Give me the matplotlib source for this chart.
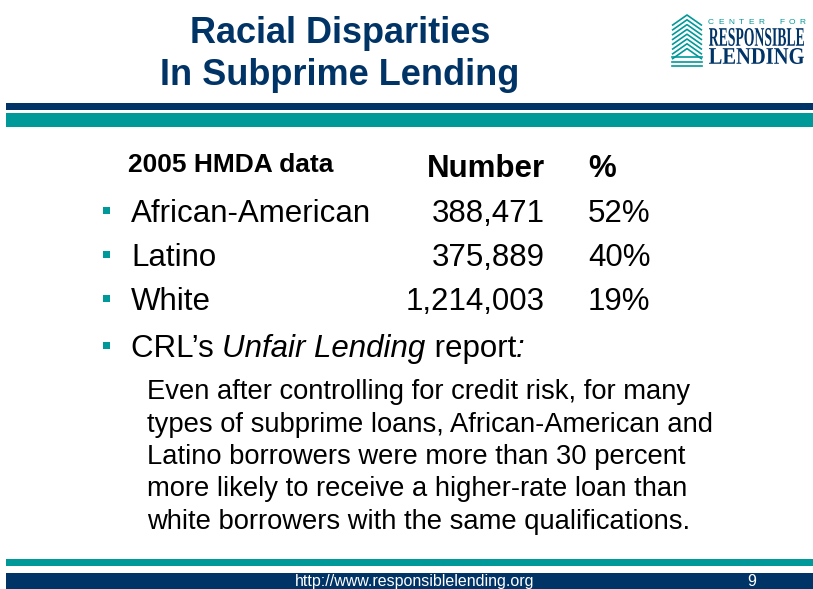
import matplotlib
matplotlib.use("Agg")
import matplotlib.pyplot as plt
from matplotlib.patches import Rectangle, PathPatch
from matplotlib.textpath import TextPath
from matplotlib.font_manager import FontProperties
from matplotlib.transforms import Affine2D

NAVY = "#003366"
TEAL = "#009999"

title_lines = ["Racial Disparities", "In Subprime Lending"]
groups = ["African-American", "Latino", "White"]
loan_counts = [388471, 375889, 1214003]
pct_subprime = [52, 40, 19]
header = ["2005 HMDA data", "Number", "%"]
report_note = ["Even after controlling for credit risk, for many",
               "types of subprime loans, African-American and",
               "Latino borrowers were more than 30 percent",
               "more likely to receive a higher-rate loan than",
               "white borrowers with the same qualifications."]
footer_url = "http://www.responsiblelending.org"
page_no = "9"

plt.rcParams['font.family'] = ['Liberation Sans', 'DejaVu Sans']

fig = plt.figure(figsize=(8.13, 5.89), dpi=100)
ax = fig.add_axes([0, 0, 1, 1])
ax.set_xlim(0, 813)
ax.set_ylim(589, 0)
ax.axis('off')


def fit_text(s, x0, x1, ytop, ybot, color, family='Liberation Serif', weight='normal'):
    # stretch a text outline into a box (used for the logo lettering)
    tp = TextPath((0, 0), s, size=10, prop=FontProperties(family=family, weight=weight))
    bb = tp.get_extents()
    tr = Affine2D().translate(-bb.x0, -bb.y1).scale((x1 - x0) / bb.width,
                                                     -(ybot - ytop) / bb.height).translate(x0, ytop)
    ax.add_patch(PathPatch(tr.transform_path(tp), fc=color, ec='none'))


# title
ax.text(340, 43, title_lines[0], ha='center', va='baseline', fontsize=26,
        fontweight='bold', color=NAVY)
ax.text(340, 85, title_lines[1], ha='center', va='baseline', fontsize=26,
        fontweight='bold', color=NAVY)

# logo: building of chevrons
cx = 687
for k in range(8):
    yp = 15 + 4.8 * k
    w = 15
    ax.plot([cx - w, cx, cx + w], [yp + w * 0.7, yp, yp + w * 0.7],
            color=TEAL, lw=1.2, solid_capstyle='butt')
for yb in [57, 61.5, 66]:
    ax.plot([cx - 15, cx + 15], [yb, yb], color=TEAL, lw=1.2)
letters = "CENTER FOR"
for i, ch in enumerate(letters):
    if ch != ' ':
        ax.text(711 + i * 10.1, 24, ch, ha='center', va='baseline', fontsize=6,
                color=TEAL)
fit_text("RESPONSIBLE", 709, 804, 28, 46, NAVY, weight='bold')
fit_text("LENDING", 709, 804, 48, 64, NAVY, weight='bold')

# header bars
ax.add_patch(Rectangle((6, 103), 807, 7, fc=NAVY, ec='none'))
ax.add_patch(Rectangle((6, 113), 807, 14, fc=TEAL, ec='none'))

# table header
ax.text(128, 172, header[0], ha='left', va='baseline', fontsize=19, fontweight='bold')
ax.text(545, 177, header[1], ha='right', va='baseline', fontsize=22.5, fontweight='bold')
ax.text(588, 177, header[2], ha='left', va='baseline', fontsize=22.5, fontweight='bold')

row_base = [222, 266, 310]
for g, n, p, yb in zip(groups, loan_counts, pct_subprime, row_base):
    ax.add_patch(Rectangle((103, yb - 15), 7, 7, fc=TEAL, ec='none'))
    ax.text(131, yb, g, ha='left', va='baseline', fontsize=22.5)
    ax.text(545, yb, f"{n:,}", ha='right', va='baseline', fontsize=22.5)
    ax.text(588, yb, f"{p}%", ha='left', va='baseline', fontsize=22.5)

# CRL report line, mixed upright / italic
ax.add_patch(Rectangle((103, 357 - 15), 7, 7, fc=TEAL, ec='none'))
renderer = fig.canvas.get_renderer()
x = 131
for piece, style in [("CRL\u2019s ", 'normal'), ("Unfair Lending", 'italic'),
                     (" report", 'normal'), (":", 'italic')]:
    t = ax.text(x, 357, piece, ha='left', va='baseline', fontsize=22.5, fontstyle=style)
    bb = t.get_window_extent(renderer)
    x = x + bb.width

for i, line in enumerate(report_note):
    ax.text(147, 399 + 32.5 * i, line, ha='left', va='baseline', fontsize=19.7)

# footer
ax.add_patch(Rectangle((6, 559), 807, 7, fc=TEAL, ec='none'))
ax.add_patch(Rectangle((6, 573), 807, 16, fc=NAVY, ec='none'))
ax.text(415, 586, footer_url, ha='center', va='baseline', fontsize=11.5, color='white')
ax.text(752, 586, page_no, ha='center', va='baseline', fontsize=11.5, color='white')

fig.savefig("out.png", dpi=100)
